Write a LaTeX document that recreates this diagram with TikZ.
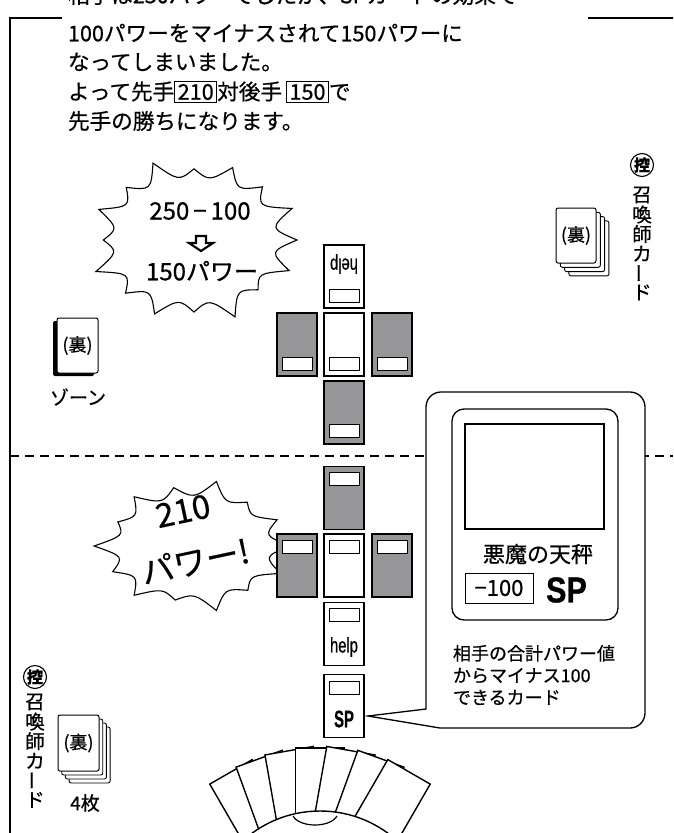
\documentclass[tikz,border=0pt]{standalone}
\usepackage{fontspec}
\setmainfont{Noto Sans CJK JP}[FakeBold=0.6]
\newfontfamily\latinsans{Liberation Sans}[FakeBold=0.8]
\usetikzlibrary{calc}
\definecolor{cardgray}{RGB}{150,150,153}
\newcommand\numbox[1]{{\setlength\fboxsep{2.5pt}\setlength\fboxrule{1pt}\fbox{#1}}}
\newcommand\vbarchar{\rotatebox[origin=c]{90}{ー}}
% #1 centre, #2 rx, #3 ry, #4 spikes, #5 radius factors (last = 1)
\newcommand\spikyburst[5]{%
  \draw[burstline] ($(#1)+(#2,0)$)
    \foreach \r [count=\k] in {#5} {
      .. controls ($(#1)+({0.75*#2*cos((\k-0.5)*360/#4)},{0.75*#3*sin((\k-0.5)*360/#4)})$)
      .. ($(#1)+({\r*#2*cos(\k*360/#4)},{\r*#3*sin(\k*360/#4)})$)
    } -- cycle;}
\begin{document}
\begin{tikzpicture}[x=1pt,y=-1pt,
  every node/.style={inner sep=0pt, outer sep=0pt},
  frameline/.style={line width=2pt},
  card/.style={draw, line width=1.1pt, minimum width=40pt, minimum height=63pt},
  graycard/.style={card, fill=cardgray},
  whitecard/.style={card, fill=white},
  slot/.style={draw, line width=1pt, fill=white, minimum width=30pt, minimum height=13pt},
  bodytext/.style={font=\fontsize{21.6}{25}\selectfont, anchor=west},
  bursttext/.style={font=\fontsize{24}{26}\selectfont},
  bigburst/.style={font=\fontsize{33}{35}\selectfont, rotate=12},
  burstline/.style={line width=1.1pt, fill=white, line join=miter},
  helptext/.style={font=\latinsans\fontsize{21}{21}\selectfont, xscale=0.7},
  sptext/.style={font=\latinsans\bfseries\fontsize{24}{24}\selectfont, xscale=0.62},
  deckcard/.style={draw, line width=0.9pt, fill=white, rounded corners=2pt},
  deckfront/.style={draw, line width=1pt, fill=white, rounded corners=2pt, font=\fontsize{18}{20}\selectfont},
  ctrl/.style={draw, circle, line width=1.1pt, minimum size=23pt, font=\bfseries\fontsize{16}{16}\selectfont},
  vchar/.style={font=\fontsize{19.5}{19.5}\selectfont},
  label/.style={font=\fontsize{19}{22}\selectfont},
  fancard/.style={draw, line width=1.4pt, fill=white},
]
\useasboundingbox (0,0) rectangle (673,833);
\fill[white] (0,0) rectangle (673,833);
\clip (0,0) rectangle (673,833);

% frame and centre line
\draw[frameline] (62,18) -- (10,18) -- (10,840);
\draw[frameline] (588,18) -- (680,18);
\draw[line width=1.6pt, dash pattern=on 9pt off 6pt] (10,456) -- (673,456);

% top text
\node[bodytext] (t1) at (68,-5) {相手は250パワーでしたが、SPカードの効果で};
\node[bodytext] (t2) at (68,33) {100パワーをマイナスされて150パワーに};
\node[bodytext] (t3) at (68,62) {なってしまいました。};
\node[bodytext] (t4) at (68,92) {よって先手\numbox{210}対後手\hspace{4pt}\numbox{150}で};
\node[bodytext] (t5) at (68,121) {先手の勝ちになります。};

% burst 1
\coordinate (B1) at (194,240);
\spikyburst{B1}{103}{80}{16}{1,.88,1.04,.9,1,.94,1.03,.88,1,.93,1.04,.89,.98,.94,1.03,1}
\node[bursttext] (b1a) at (200,211) {250\,−\,100};
\coordinate (ar) at (201,243);
\draw[line width=2.2pt, line join=miter] ($(ar)+(-5,-7)$) -- ++(10,0) -- ++(0,7) -- ++(7,0)
  -- ($(ar)+(0,8)$) -- ($(ar)+(-12,0)$) -- ++(7,0) -- cycle;
\node[bursttext] (b1b) at (202,271) {150パワー};

% burst 2
\coordinate (B2) at (194,546);
\spikyburst{B2}{96}{63}{14}{1,.9,1.05,.88,1,.94,1.04,.88,1,.95,1.05,.89,.96,1}
\node[bigburst] (b2a) at (183,511) {210};
\node[bigburst] (b2b) at (195,561) {パワー!};

% opponent field
\node[whitecard] (Thelp) at (344,276.5) {};
\node[helptext, rotate=180] (Thelptx) at (344,264) {help};
\node[slot] (Thelps) at (344,295.5) {};
\node[graycard] (TL) at (297,344.5) {};
\node[slot] (TLs) at (297,363.5) {};
\node[whitecard] (TC) at (344,344.5) {};
\node[slot] (TCs) at (344,363.5) {};
\node[graycard] (TR) at (392,344.5) {};
\node[slot] (TRs) at (392,363.5) {};
\node[graycard] (TB) at (344,412.5) {};
\node[slot] (TBs) at (344,430.5) {};

% player field
\node[graycard] (PT) at (344,498) {};
\node[slot] (PTs) at (344,479) {};
\node[graycard] (PL) at (297,565.5) {};
\node[slot] (PLs) at (297,546.5) {};
\node[whitecard] (PC) at (344,565.5) {};
\node[slot] (PCs) at (344,546.5) {};
\node[graycard] (PR) at (392,565.5) {};
\node[slot] (PRs) at (392,546.5) {};
\node[whitecard] (Phelp) at (344,634) {};
\node[slot] (Phelps) at (344,615) {};
\node[helptext] (Phelptx) at (344,647) {help};
\node[whitecard] (Psp) at (344,706) {};
\node[slot] (Psps) at (344,687.5) {};
\node[sptext] (Psptx) at (344,719) {SP};

% callout
\coordinate (tip) at ($(Psp.east)+(4,10)$);
\draw[line width=1.3pt, fill=white, line join=miter] (tip) -- (426,709) -- (426,407)
  .. controls (426,398.7) and (432.7,392) .. (441,392) -- (630,392)
  .. controls (638.3,392) and (645,398.7) .. (645,407) -- (645,713)
  .. controls (645,721.3) and (638.3,728) .. (630,728) -- (440,728) -- cycle;
\node[draw, line width=1.3pt, rounded corners=12pt, minimum width=166pt, minimum height=211pt] (bigcard) at (535,514.5) {};
\node[draw, line width=1.1pt, minimum width=139pt, minimum height=105pt] (pic) at (534.5,476.5) {};
\node[font=\fontsize{22}{24}\selectfont] (title) at (538,554) {悪魔の天秤};
\node[draw, line width=1pt, minimum width=68pt, minimum height=30pt, font=\fontsize{22}{24}\selectfont] (minus) at (499,588) {−100};
\node[font=\latinsans\bfseries\fontsize{36}{36}\selectfont, xscale=0.85] (spbig) at (566.5,590) {SP};
\node[anchor=west, align=left, font=\fontsize{18}{22}\selectfont] (desc) at (453,675) {相手の合計パワー値\\からマイナス100\\できるカード};

% zone
\fill[rounded corners=2pt] (53,321) rectangle (94,376);
\node[deckfront, minimum width=41pt, minimum height=55pt] (zone) at (77.5,345.5) {(裏)};
\node[label] (zonetx) at (78,397) {ゾーン};

% opponent summoner deck
\foreach \d in {3,2,1} \draw[deckcard] ({556+4.3*\d},{208+4.3*\d}) rectangle ++(40,55);
\node[deckfront, minimum width=40pt, minimum height=55pt] (deckR) at (576,235.5) {(裏)};
\node[ctrl] (ctrlR) at (642,165) {控};
\foreach \c [count=\i] in {召,喚,師,カ,\vbarchar,ド}
  \node[vchar] (vR\i) at (642,{195+19.5*(\i-1)}) {\c};

% player summoner deck
\foreach \d in {3,2,1} \draw[deckcard] ({58+3.7*\d},{715+4*\d}) rectangle ++(41,56);
\node[deckfront, minimum width=41pt, minimum height=56pt] (deckL) at (78.5,743) {(裏)};
\node[label] (decktx) at (85,803) {4枚};
\node[ctrl] (ctrlL) at (35,677) {控};
\foreach \c [count=\i] in {召,喚,師,カ,\vbarchar,ド}
  \node[vchar] (vL\i) at (35,{702+19.6*(\i-1)}) {\c};

% hand
\coordinate (pivot) at (320,926);
\foreach \a in {-30,-20,-10,0,10,20,30}{
  \begin{scope}[shift={(pivot)}, rotate=-\a]
    \draw[fancard] (-24.5,-178) rectangle (24.5,-100);
  \end{scope}}
\draw[line width=1.4pt, fill=white] (pivot) circle (115);
\draw[line width=1.2pt] (293,816) .. controls (300,828) and (330,828) .. (337,816);
\end{tikzpicture}
\end{document}
